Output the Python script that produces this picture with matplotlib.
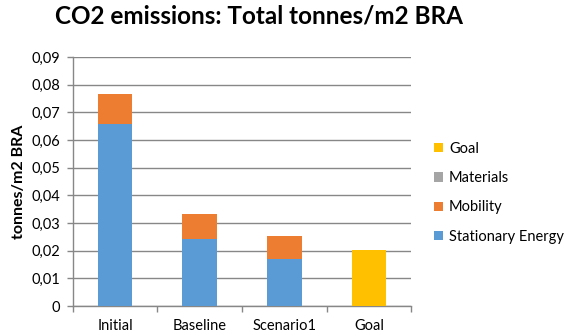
import matplotlib
matplotlib.use("Agg")
import matplotlib.pyplot as plt
import numpy as np

plt.rcParams['font.family'] = ['Lato', 'DejaVu Sans']

categories = ['Initial', 'Baseline', 'Scenario1', 'Goal']
stationary = [0.0657, 0.0241, 0.0169, 0.0]
mobility = [0.0109, 0.0091, 0.0084, 0.0]
materials = [0.0, 0.0, 0.0, 0.0]
goal = [0.0, 0.0, 0.0, 0.0201]
yticks = [0, 0.01, 0.02, 0.03, 0.04, 0.05, 0.06, 0.07, 0.08, 0.09]

c_stat = '#5B9BD5'
c_mob = '#ED7D31'
c_mat = '#A5A5A5'
c_goal = '#FFC000'
grid_c = '#878787'

fig = plt.figure(figsize=(5.64, 3.33), dpi=100)
ax = fig.add_axes([0.129, 0.081, 0.600, 0.748])

x = np.arange(len(categories))
w = 0.41
b1 = ax.bar(x, stationary, w, color=c_stat, label='Stationary Energy', zorder=3)
bottom = np.array(stationary)
b2 = ax.bar(x, mobility, w, bottom=bottom, color=c_mob, label='Mobility', zorder=3)
bottom = bottom + np.array(mobility)
b3 = ax.bar(x, materials, w, bottom=bottom, color=c_mat, label='Materials', zorder=3)
bottom = bottom + np.array(materials)
b4 = ax.bar(x, goal, w, bottom=bottom, color=c_goal, label='Goal', zorder=3)

ax.set_xlim(-0.5, len(categories) - 0.5)
ax.set_ylim(0, 0.09)
ax.set_yticks(yticks)
ax.set_yticklabels(['0' if v == 0 else f'{v:.2f}'.replace('.', ',') for v in yticks],
                   fontsize=10.5)
ax.yaxis.grid(True, color=grid_c, linewidth=1.0, zorder=0)
ax.set_axisbelow(True)

ax.set_xticks(x)
ax.set_xticklabels(categories, fontsize=10.5)
ax.tick_params(axis='x', length=0, pad=9)
ax.set_xticks(np.arange(-0.5, len(categories)), minor=True)
ax.tick_params(axis='x', which='minor', length=4, color=grid_c, width=1)
ax.tick_params(axis='y', length=4, color=grid_c, width=1, pad=5)

for s in ['top', 'right']:
    ax.spines[s].set_visible(False)
for s in ['left', 'bottom']:
    ax.spines[s].set_color(grid_c)
    ax.spines[s].set_linewidth(1.0)

ax.set_ylabel('tonnes/m2 BRA', fontsize=11.5, fontweight='bold', labelpad=4)

fig.suptitle('CO2 emissions: Total tonnes/m2 BRA', fontsize=17.5, fontweight='bold',
             x=0.46, y=0.985)

ax.legend(handles=[b4, b3, b2, b1], loc='center left', bbox_to_anchor=(1.03, 0.455),
          frameon=False, fontsize=10.5, handlelength=0.6, handleheight=0.6,
          handletextpad=0.4, labelspacing=1.05)

fig.savefig('out.png', dpi=100)
